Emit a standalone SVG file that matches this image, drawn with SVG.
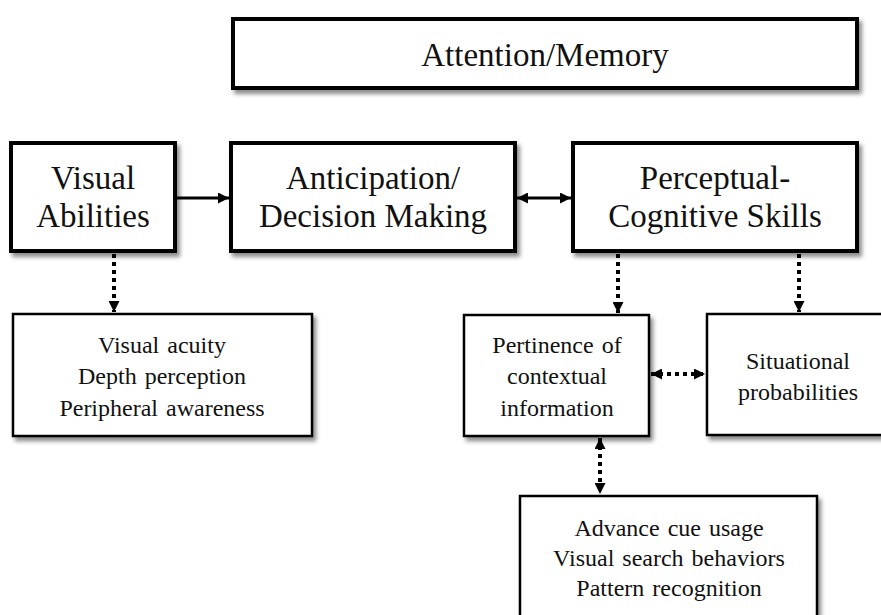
<svg xmlns="http://www.w3.org/2000/svg" width="881" height="615" viewBox="0 0 881 615">
<style>
  .big { fill:#fff; stroke:#000; stroke-width:4; filter:url(#sh); }
  .small { fill:#fff; stroke:#000; stroke-width:2.5; filter:url(#sh); }
  .tb { font-family:"Liberation Serif","Times New Roman",serif; font-size:33px; fill:#111; text-anchor:middle; }
  .ts { font-family:"Liberation Serif","Times New Roman",serif; font-size:24px; fill:#111; text-anchor:middle; word-spacing:2px; }
  .solid { stroke:#000; stroke-width:3; fill:none; }
  .dot { stroke:#000; stroke-width:4; fill:none; stroke-dasharray:4 4; }
</style>
<defs>
  <filter id="sh" x="-10%" y="-10%" width="130%" height="140%">
    <feDropShadow dx="3" dy="4" stdDeviation="2" flood-color="#000" flood-opacity="0.45"/>
  </filter>
  <marker id="ah" viewBox="0 0 10 10" refX="10" refY="5" markerWidth="11" markerHeight="11" markerUnits="userSpaceOnUse" orient="auto-start-reverse">
    <path d="M0,0 L10,5 L0,10 z" fill="#000"/>
  </marker>
  <marker id="ad" viewBox="0 0 10 10" refX="10" refY="5" markerWidth="11" markerHeight="11" markerUnits="userSpaceOnUse" orient="auto-start-reverse">
    <path d="M0,0 L10,5 L0,10 z" fill="#000"/>
  </marker>
</defs>

<g id="attention">
  <rect class="big" x="233" y="19" width="624" height="69"/>
  <text class="tb" x="545" y="66">Attention/Memory</text>
</g>
<g id="visual-abilities">
  <rect class="big" x="11" y="143" width="164" height="108"/>
  <text class="tb" x="93" y="189">Visual</text>
  <text class="tb" x="93" y="227">Abilities</text>
</g>
<g id="anticipation">
  <rect class="big" x="231" y="143" width="284" height="108"/>
  <text class="tb" x="373" y="189">Anticipation/</text>
  <text class="tb" x="373" y="227">Decision Making</text>
</g>
<g id="perceptual-cognitive">
  <rect class="big" x="573" y="143" width="284" height="108"/>
  <text class="tb" x="715" y="189">Perceptual-</text>
  <text class="tb" x="715" y="227">Cognitive Skills</text>
</g>
<g id="visual-list">
  <rect class="small" x="13" y="314" width="299" height="122"/>
  <text class="ts" x="162" y="353">Visual acuity</text>
  <text class="ts" x="162" y="384">Depth perception</text>
  <text class="ts" x="162" y="416">Peripheral awareness</text>
</g>
<g id="pertinence">
  <rect class="small" x="464" y="315" width="185" height="121"/>
  <text class="ts" x="557" y="353">Pertinence of</text>
  <text class="ts" x="557" y="384">contextual</text>
  <text class="ts" x="557" y="416">information</text>
</g>
<g id="situational">
  <rect class="small" x="707" y="314" width="200" height="121"/>
  <text class="ts" x="798" y="369">Situational</text>
  <text class="ts" x="798" y="400">probabilities</text>
</g>
<g id="advance">
  <rect class="small" x="520" y="496" width="297" height="140"/>
  <text class="ts" x="669" y="536">Advance cue usage</text>
  <text class="ts" x="669" y="566">Visual search behaviors</text>
  <text class="ts" x="669" y="596">Pattern recognition</text>
</g>

<g id="connectors">
  <line class="solid" x1="177" y1="198" x2="229" y2="198" marker-end="url(#ah)"/>
  <line class="solid" x1="517" y1="198" x2="571" y2="198" marker-start="url(#ah)" marker-end="url(#ah)"/>
  <line class="dot" x1="114" y1="254" x2="114" y2="312" marker-end="url(#ad)"/>
  <line class="dot" x1="618" y1="254" x2="618" y2="313" marker-end="url(#ad)"/>
  <line class="dot" x1="799" y1="254" x2="799" y2="312" marker-end="url(#ad)"/>
  <line class="dot" x1="651" y1="374" x2="705" y2="374" marker-start="url(#ad)" marker-end="url(#ad)"/>
  <line class="dot" x1="600" y1="438" x2="600" y2="494" marker-start="url(#ad)" marker-end="url(#ad)"/>
</g>
</svg>
